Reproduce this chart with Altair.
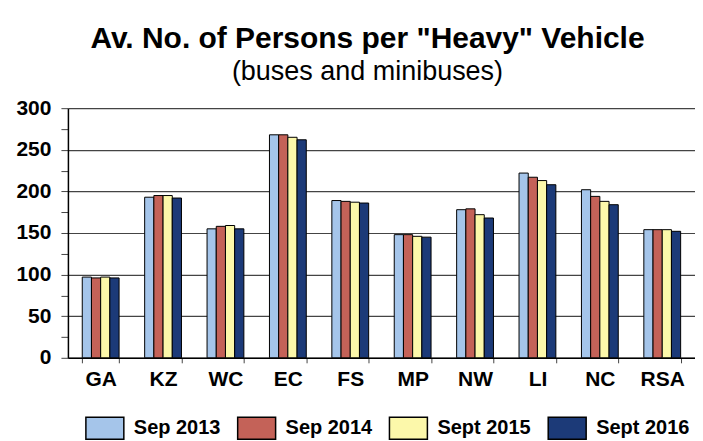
import altair as alt
import pandas as pd

regions = ["GA", "KZ", "WC", "EC", "FS", "MP", "NW", "LI", "NC", "RSA"]
series = ["Sep 2013", "Sep 2014", "Sept 2015", "Sept 2016"]
sep2013 = [97, 193, 155, 268, 189, 148, 178, 222, 202, 154]
sep2014 = [96, 195, 158, 268, 188, 148, 179, 217, 194, 154]
sept2015 = [97, 195, 159, 265, 187, 146, 172, 213, 188, 154]
sept2016 = [96, 192, 155, 262, 186, 145, 168, 208, 184, 152]
colors = ["#a5c5ea", "#c46258", "#fcf8aa", "#1c3a78"]
y_ticks = list(range(0, 301, 25))

rows = []
for s, vals in zip(series, [sep2013, sep2014, sept2015, sept2016]):
    for r, v in zip(regions, vals):
        rows.append({"region": r, "series": s, "value": v})
df = pd.DataFrame(rows)

FONT = "Liberation Sans"
major = "datum.value % 50 === 0"

chart = alt.Chart(df).mark_bar(stroke="black", strokeWidth=1).encode(
    x=alt.X(
        "region:N", sort=regions, title=None,
        scale=alt.Scale(paddingInner=0.41, paddingOuter=0.23),
        axis=alt.Axis(
            labelAngle=0, labelFont=FONT, labelFontSize=21, labelFontWeight="bold",
            labelColor="black", tickBand="extent", tickSize=5, tickColor="#444",
            domainColor="black", domainWidth=1.5, labelPadding=6,
        ),
    ),
    xOffset=alt.XOffset("series:N", sort=series,
                        scale=alt.Scale(paddingInner=0, paddingOuter=0)),
    y=alt.Y(
        "value:Q", title=None,
        scale=alt.Scale(domain=[0, 300], nice=False),
        axis=alt.Axis(
            values=y_ticks,
            labelExpr="datum.value % 50 === 0 ? datum.label : ''",
            labelFont=FONT, labelFontSize=21, labelFontWeight="bold", labelColor="black",
            labelPadding=10, tickSize=7, tickColor="#444",
            domainColor="black", domainWidth=1.5,
            gridColor="#444", gridWidth=1.2,
            gridOpacity={"condition": {"test": major, "value": 1}, "value": 0},
        ),
    ),
    color=alt.Color(
        "series:N", sort=series,
        scale=alt.Scale(domain=series, range=colors),
        legend=alt.Legend(
            title=None, orient="none", legendX=17, legendY=300, direction="horizontal",
            symbolType="M-1,-0.58H1V0.58H-1Z", symbolSize=1444,
            symbolStrokeColor="black", symbolStrokeWidth=1.5, symbolOpacity=1,
            labelFont=FONT, labelFontSize=20, labelFontWeight="bold", labelColor="black",
            labelOffset=9, columnPadding=14, padding=0,
        ),
    ),
).properties(
    width=628, height=250,
    title=alt.Title(
        text='Av. No. of Persons per "Heavy" Vehicle',
        subtitle="(buses and minibuses)",
        font=FONT, fontSize=30, fontWeight="bold", color="black",
        subtitleFont=FONT, subtitleFontSize=27, subtitleFontWeight="normal",
        subtitleColor="black", subtitlePadding=5, offset=12, dx=-14, anchor="middle",
    ),
    padding={"left": 7, "top": 16, "right": 0, "bottom": 0},
    background="white",
).configure_view(stroke=None)

chart.save("out.html", embed_options={"renderer": "svg", "actions": False})
